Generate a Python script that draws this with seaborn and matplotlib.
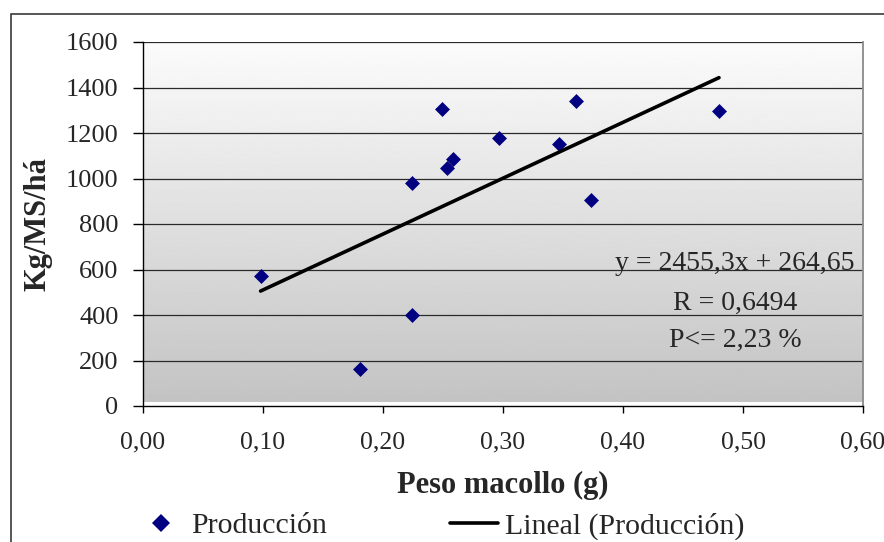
import numpy as np
import pandas as pd
import matplotlib
matplotlib.use("Agg")
import matplotlib.pyplot as plt
from matplotlib.lines import Line2D
from matplotlib.patches import Rectangle
import seaborn as sns

# Tiller weight (g) vs. dry-matter yield (kg MS/ha)
peso_macollo = [0.098, 0.181, 0.224, 0.224, 0.249, 0.253, 0.258, 0.297, 0.347, 0.361, 0.373, 0.480]
produccion = [571, 161, 400, 981, 1305, 1047, 1086, 1178, 1152, 1339, 904, 1298]

# Fitted linear trend and statistics
pendiente = 2455.3
intercepto = 264.65
r_valor = "0,6494"
p_valor = "2,23"

x_ticks = [0.0, 0.1, 0.2, 0.3, 0.4, 0.5, 0.6]
x_ticklabels = ["0,00", "0,10", "0,20", "0,30", "0,40", "0,50", "0,60"]
y_ticks = [0, 200, 400, 600, 800, 1000, 1200, 1400, 1600]

sns.set_theme(style="white")
plt.rcParams["font.family"] = ["Liberation Serif", "DejaVu Serif"]

W, H = 884, 542
fig = plt.figure(figsize=(W / 100, H / 100), dpi=100)
ax = fig.add_axes([143 / W, 1 - 406 / H, 720 / W, 364 / H])

df = pd.DataFrame({"peso": peso_macollo, "prod": produccion})
x_fit = np.array([min(peso_macollo), max(peso_macollo)])
fit = pd.DataFrame({"peso": x_fit, "prod": pendiente * x_fit + intercepto})

# Gradient backdrop for the plotting area
grad = np.linspace(0.765, 0.985, 256).reshape(-1, 1)
ax.imshow(grad, cmap="gray", vmin=0, vmax=1, origin="lower", aspect="auto",
          extent=[0, 1, 0.011, 1], transform=ax.transAxes, zorder=0,
          interpolation="bilinear")

for yv in y_ticks[1:]:
    ax.axhline(yv, color="#2a2a2a", lw=0.9, zorder=1)

sns.scatterplot(data=df, x="peso", y="prod", marker="D", s=58, color="#000080",
                linewidth=0, ax=ax, zorder=3, legend=False)
sns.lineplot(data=fit, x="peso", y="prod", color="black", lw=2.6, ax=ax,
             zorder=4, legend=False)

ax.set_xlim(0, 0.6)
ax.set_ylim(0, 1600)
ax.set_xticks(x_ticks)
ax.set_xticklabels(x_ticklabels)
ax.set_yticks(y_ticks)
ax.tick_params(axis="x", direction="out", length=5, width=1, color="black",
               labelsize=18.5, pad=13, bottom=True)
ax.tick_params(axis="y", direction="out", length=7.2, width=1, color="black",
               labelsize=19, pad=10.5, left=True)

for s in ["left", "bottom"]:
    ax.spines[s].set_color("black")
    ax.spines[s].set_linewidth(1)
ax.spines["top"].set_visible(False)
ax.spines["right"].set_color("#8a8a8a")
ax.spines["right"].set_linewidth(1.3)

ax.set_xlabel("Peso macollo (g)", fontsize=22, fontweight="bold")
ax.set_ylabel("Kg/MS/há", fontsize=22, fontweight="bold")
ax.xaxis.label.set_va("center")
ax.yaxis.label.set_va("center")
ax.xaxis.set_label_coords(0.5, (406 - 485) / 364)
ax.yaxis.set_label_coords((38 - 143) / 720, 0.5)

# Regression annotation
tx = (735 - 143) / 720
ax.text(tx, (406 - 270) / 364, f"y = {str(pendiente).replace('.', ',')}x + {str(intercepto).replace('.', ',')}",
        transform=ax.transAxes, ha="center", va="baseline", fontsize=20, zorder=5)
ax.text(tx, (406 - 310) / 364, f"R = {r_valor}",
        transform=ax.transAxes, ha="center", va="baseline", fontsize=20, zorder=5)
ax.text(tx, (406 - 347) / 364, f"P<= {p_valor} %",
        transform=ax.transAxes, ha="center", va="baseline", fontsize=20, zorder=5)

# Legend below the axis title
h_pts = Line2D([], [], ls="none", marker="D", ms=9, color="#000080", mew=0)
h_lin = Line2D([], [], color="black", lw=2.6)
ly = (H - 526) / H
leg1 = fig.legend([h_pts], ["Producción"], loc="center left",
                  bbox_to_anchor=(137 / W, ly), frameon=False, fontsize=21.5,
                  handlelength=1.6, handletextpad=0.2, borderpad=0, borderaxespad=0)
leg2 = fig.legend([h_lin], ["Lineal (Producción)"], loc="center left",
                  bbox_to_anchor=(450 / W, ly), frameon=False, fontsize=21.5,
                  handlelength=1.6, handletextpad=0.25, borderpad=0, borderaxespad=0)

# Outer chart frame
fig.patches.append(Rectangle((11 / W, -0.2), 1.2, 1.2 - 14 / H, transform=fig.transFigure,
                             fill=False, edgecolor="#3a3a3a", lw=1.2))

fig.savefig("out.png", dpi=100)
